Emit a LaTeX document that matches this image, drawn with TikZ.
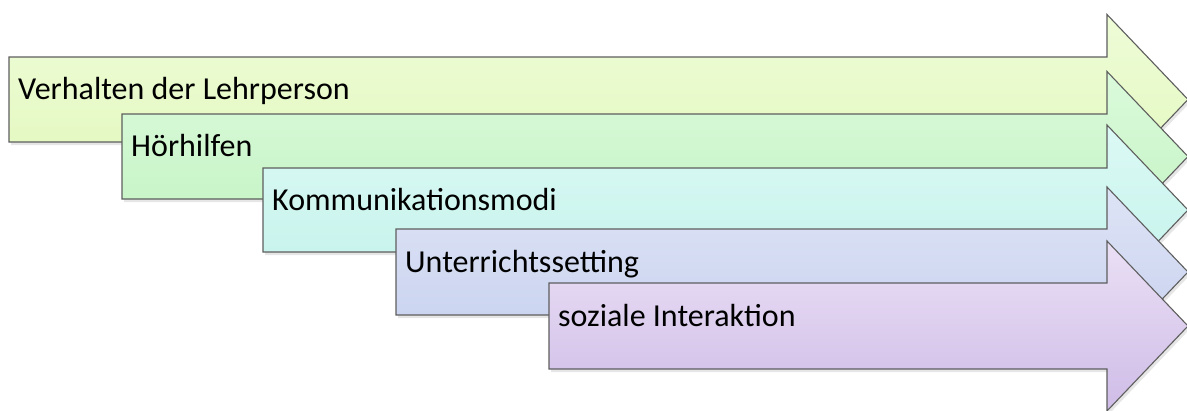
\documentclass[tikz,border=0pt]{standalone}
\usepackage{fontspec}
\setmainfont{Carlito}
\usetikzlibrary{shadows}
\definecolor{aT}{HTML}{EFFCD8}\definecolor{aB}{HTML}{E1F8BC}
\definecolor{bT}{HTML}{DBFADB}\definecolor{bB}{HTML}{C2F3C2}
\definecolor{cT}{HTML}{DCF9F5}\definecolor{cB}{HTML}{C2F2EA}
\definecolor{dT}{HTML}{DEE4F6}\definecolor{dB}{HTML}{C6D0EE}
\definecolor{eT}{HTML}{EAE0F5}\definecolor{eB}{HTML}{CFBCE7}
\definecolor{edge}{HTML}{5E5E5E}
\tikzset{
  arrowshape/.style={draw=edge, line width=1.1pt, line join=miter,
    drop shadow={opacity=0.2, shadow xshift=2pt, shadow yshift=-3pt}},
  label/.style={anchor=base west, inner sep=0pt, font=\fontsize{32}{38}\selectfont, text=black}
}
\begin{document}
\begin{tikzpicture}[x=1pt,y=-1pt]
\useasboundingbox (0,0) rectangle (1187,410);
\foreach \L/\T/\B/\C/\ct/\cb/\nm/\txt in {
  9/57/142/99.5/aT/aB/a/{Verhalten der Lehrperson},
  122/114/199/156.5/bT/bB/b/{Hörhilfen},
  263/168/252/210/cT/cB/c/{Kommunikationsmodi},
  396/229/315/272/dT/dB/d/{Unterrichtssetting},
  549/283/369/326/eT/eB/e/{soziale Interaktion}}{
  \path[arrowshape, top color=\ct, bottom color=\cb]
    (\L,\T) -- (1107,\T) -- (1107,\C-85) -- (1188,\C) -- (1107,\C+85)
    -- (1107,\B) -- (\L,\B) -- cycle;
  \node[label] (\nm) at (\L+9,\C) {\txt};
}
\end{tikzpicture}
\end{document}
